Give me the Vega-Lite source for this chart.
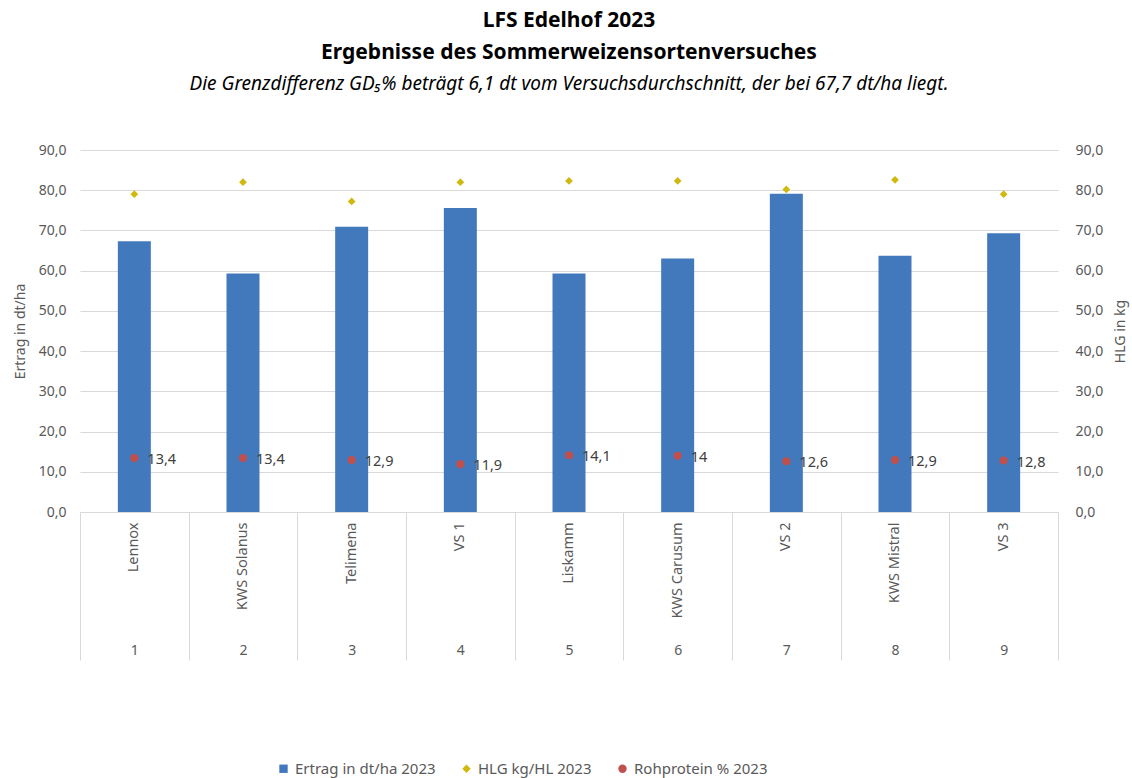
{
  "$schema": "https://vega.github.io/schema/vega-lite/v6.json",
  "width": 978,
  "height": 362,
  "autosize": {"type": "none"},
  "padding": {"left": 80, "top": 150, "right": 74, "bottom": 266},
  "background": "white",
  "config": {
    "locale": {"number": {"decimal": ",", "thousands": ".", "grouping": [3], "currency": ["", " €"]}},
    "font": "Noto Sans",
    "view": {"stroke": null},
    "axis": {"labelFont": "Noto Sans", "titleFont": "Noto Sans", "labelColor": "#595959", "titleColor": "#595959", "labelFontSize": 14, "titleFontSize": 14, "titleFontWeight": "normal"}
  },
  "title": {
    "text": ["LFS Edelhof 2023", "Ergebnisse des Sommerweizensortenversuches"],
    "subtitle": "Die Grenzdifferenz GD₅% beträgt  6,1 dt vom Versuchsdurchschnitt, der bei  67,7 dt/ha liegt.",
    "anchor": "middle",
    "font": "Noto Sans",
    "fontSize": 21,
    "fontWeight": "bold",
    "color": "#000000",
    "lineHeight": 32,
    "subtitleFont": "Noto Sans",
    "subtitleFontSize": 19,
    "subtitleFontStyle": "italic",
    "subtitleColor": "#000000",
    "subtitlePadding": 12,
    "offset": 49
  },
  "data": {
    "values": [
      {"Nr": 1, "Sorte": "Lennox", "Serie": "Ertrag in dt/ha 2023", "Wert": 67.3},
      {"Nr": 2, "Sorte": "KWS Solanus", "Serie": "Ertrag in dt/ha 2023", "Wert": 59.3},
      {"Nr": 3, "Sorte": "Telimena", "Serie": "Ertrag in dt/ha 2023", "Wert": 70.9},
      {"Nr": 4, "Sorte": "VS 1", "Serie": "Ertrag in dt/ha 2023", "Wert": 75.6},
      {"Nr": 5, "Sorte": "Liskamm", "Serie": "Ertrag in dt/ha 2023", "Wert": 59.3},
      {"Nr": 6, "Sorte": "KWS Carusum", "Serie": "Ertrag in dt/ha 2023", "Wert": 63.0},
      {"Nr": 7, "Sorte": "VS 2", "Serie": "Ertrag in dt/ha 2023", "Wert": 79.1},
      {"Nr": 8, "Sorte": "KWS Mistral", "Serie": "Ertrag in dt/ha 2023", "Wert": 63.7},
      {"Nr": 9, "Sorte": "VS 3", "Serie": "Ertrag in dt/ha 2023", "Wert": 69.3},
      {"Nr": 1, "Sorte": "Lennox", "Serie": "HLG kg/HL 2023", "Wert": 79.0},
      {"Nr": 2, "Sorte": "KWS Solanus", "Serie": "HLG kg/HL 2023", "Wert": 82.0},
      {"Nr": 3, "Sorte": "Telimena", "Serie": "HLG kg/HL 2023", "Wert": 77.2},
      {"Nr": 4, "Sorte": "VS 1", "Serie": "HLG kg/HL 2023", "Wert": 82.0},
      {"Nr": 5, "Sorte": "Liskamm", "Serie": "HLG kg/HL 2023", "Wert": 82.3},
      {"Nr": 6, "Sorte": "KWS Carusum", "Serie": "HLG kg/HL 2023", "Wert": 82.3},
      {"Nr": 7, "Sorte": "VS 2", "Serie": "HLG kg/HL 2023", "Wert": 80.2},
      {"Nr": 8, "Sorte": "KWS Mistral", "Serie": "HLG kg/HL 2023", "Wert": 82.6},
      {"Nr": 9, "Sorte": "VS 3", "Serie": "HLG kg/HL 2023", "Wert": 79.0},
      {"Nr": 1, "Sorte": "Lennox", "Serie": "Rohprotein % 2023", "Wert": 13.4},
      {"Nr": 2, "Sorte": "KWS Solanus", "Serie": "Rohprotein % 2023", "Wert": 13.4},
      {"Nr": 3, "Sorte": "Telimena", "Serie": "Rohprotein % 2023", "Wert": 12.9},
      {"Nr": 4, "Sorte": "VS 1", "Serie": "Rohprotein % 2023", "Wert": 11.9},
      {"Nr": 5, "Sorte": "Liskamm", "Serie": "Rohprotein % 2023", "Wert": 14.1},
      {"Nr": 6, "Sorte": "KWS Carusum", "Serie": "Rohprotein % 2023", "Wert": 14},
      {"Nr": 7, "Sorte": "VS 2", "Serie": "Rohprotein % 2023", "Wert": 12.6},
      {"Nr": 8, "Sorte": "KWS Mistral", "Serie": "Rohprotein % 2023", "Wert": 12.9},
      {"Nr": 9, "Sorte": "VS 3", "Serie": "Rohprotein % 2023", "Wert": 12.8}
    ]
  },
  "resolve": {"scale": {"y": "independent"}, "axis": {"x": "independent", "y": "independent"}},
  "layer": [
    {
      "transform": [{"filter": "datum.Serie == 'Ertrag in dt/ha 2023'"}],
      "mark": {"type": "bar", "size": 33},
      "encoding": {
        "x": {"field": "Sorte", "type": "nominal", "sort": ["Lennox", "KWS Solanus", "Telimena", "VS 1", "Liskamm", "KWS Carusum", "VS 2", "KWS Mistral", "VS 3"], "scale": {"paddingInner": 0, "paddingOuter": 0},
          "axis": {"orient": "bottom", "title": null, "labelAngle": -90, "labelPadding": 10, "labelFontSize": 14.5, "ticks": false, "domain": true, "domainColor": "#d9d9d9", "grid": false, "labelLimit": 130}},
        "y": {"field": "Wert", "type": "quantitative", "scale": {"domain": [0, 90], "nice": false},
          "axis": {"orient": "left", "title": "Ertrag in dt/ha", "values": [0, 10, 20, 30, 40, 50, 60, 70, 80, 90], "format": ".1f", "domain": false, "ticks": false, "grid": true, "gridColor": "#d9d9d9", "labelPadding": 14, "titlePadding": 11}},
        "color": {"field": "Serie", "type": "nominal",
          "scale": {"domain": ["Ertrag in dt/ha 2023", "HLG kg/HL 2023", "Rohprotein % 2023"], "range": ["#4279bd", "#d1b80f", "#c0504d"]},
          "legend": {"orient": "none", "legendX": 196, "legendY": 611, "direction": "horizontal", "title": null, "labelFontSize": 15, "labelColor": "#595959", "labelFont": "Noto Sans", "columnPadding": 23, "symbolSize": 70, "labelOffset": 4}}
      }
    },
    {
      "transform": [{"filter": "datum.Serie == 'HLG kg/HL 2023'"}],
      "mark": {"type": "point", "filled": true, "size": 60, "opacity": 1},
      "encoding": {
        "x": {"field": "Sorte", "type": "nominal", "sort": ["Lennox", "KWS Solanus", "Telimena", "VS 1", "Liskamm", "KWS Carusum", "VS 2", "KWS Mistral", "VS 3"],
          "axis": {"orient": "bottom", "title": null, "labelAngle": 0, "labelExpr": "datum.index >= 0 ? round(datum.index * 8) + 1 : ''", "ticks": true, "tickBand": "extent", "tickSize": 148, "tickColor": "#d9d9d9", "domain": false, "grid": false, "labelPadding": -17}},
        "y": {"field": "Wert", "type": "quantitative", "scale": {"domain": [0, 90], "nice": false},
          "axis": {"orient": "right", "title": "HLG in kg", "titleAngle": -90, "titleBaseline": "top", "values": [0, 10, 20, 30, 40, 50, 60, 70, 80, 90], "format": ".1f", "domain": false, "ticks": false, "grid": false, "labelPadding": 17, "titlePadding": 11}},
        "color": {"field": "Serie", "type": "nominal"},
        "shape": {"field": "Serie", "type": "nominal",
          "scale": {"domain": ["Ertrag in dt/ha 2023", "HLG kg/HL 2023", "Rohprotein % 2023"], "range": ["square", "diamond", "circle"]},
          "legend": {"orient": "none", "legendX": 196, "legendY": 611, "direction": "horizontal", "title": null}}
      }
    },
    {
      "transform": [{"filter": "datum.Serie == 'Rohprotein % 2023'"}],
      "mark": {"type": "point", "filled": true, "size": 65, "opacity": 1},
      "encoding": {
        "x": {"field": "Sorte", "type": "nominal", "sort": ["Lennox", "KWS Solanus", "Telimena", "VS 1", "Liskamm", "KWS Carusum", "VS 2", "KWS Mistral", "VS 3"], "axis": null},
        "y": {"field": "Wert", "type": "quantitative", "scale": {"domain": [0, 90], "nice": false}, "axis": null},
        "color": {"field": "Serie", "type": "nominal"},
        "shape": {"field": "Serie", "type": "nominal"}
      }
    },
    {
      "transform": [{"filter": "datum.Serie == 'Rohprotein % 2023'"}],
      "mark": {"type": "text", "align": "left", "baseline": "middle", "dx": 13, "dy": 2, "fontSize": 14.5, "font": "Noto Sans", "color": "#404040"},
      "encoding": {
        "x": {"field": "Sorte", "type": "nominal", "sort": ["Lennox", "KWS Solanus", "Telimena", "VS 1", "Liskamm", "KWS Carusum", "VS 2", "KWS Mistral", "VS 3"], "axis": null},
        "y": {"field": "Wert", "type": "quantitative", "scale": {"domain": [0, 90], "nice": false}, "axis": null},
        "text": {"field": "Wert", "type": "quantitative", "format": "~g"}
      }
    }
  ]
}
